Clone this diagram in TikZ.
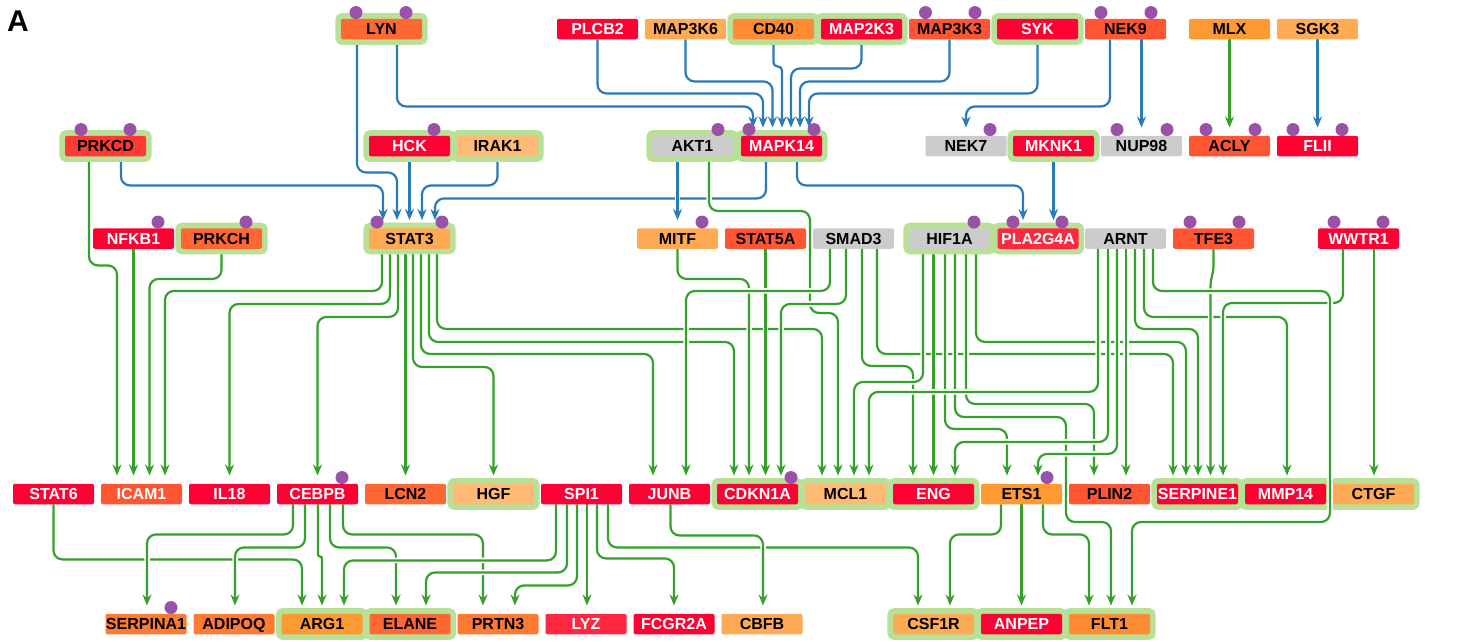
\documentclass[tikz,border=0pt]{standalone}
\usepackage{fontspec}
\setmainfont{Liberation Sans}
\usetikzlibrary{arrows.meta}
\definecolor{cRed}{HTML}{FF0033}
\definecolor{cRedL}{HTML}{FF2840}
\definecolor{cPrk}{HTML}{FF3A33}
\definecolor{cOrRed}{HTML}{FF5533}
\definecolor{cOrA}{HTML}{FF6833}
\definecolor{cOrB}{HTML}{FF7A33}
\definecolor{cOrC}{HTML}{FF8C33}
\definecolor{cOrD}{HTML}{FF9A33}
\definecolor{cLt}{HTML}{FFAA55}
\definecolor{cLtB}{HTML}{FFBA75}
\definecolor{cGray}{HTML}{CCCCCC}
\definecolor{cHalo}{HTML}{B8E096}
\definecolor{cBlue}{HTML}{2A7AB8}
\definecolor{cGreen}{HTML}{35A02C}
\definecolor{cDot}{HTML}{9A52A8}
\pgfdeclarelayer{edges}
\pgfdeclarelayer{halos}
\pgfsetlayers{edges,halos,main}
\begin{document}
\begin{tikzpicture}[x=1pt, y=-1pt,
    gene/.style={rectangle, rounded corners=2pt, minimum width=81pt, minimum height=20.5pt,
      inner sep=0pt, text height=11.4pt, text depth=0pt,
      font=\bfseries\fontsize{16}{18}\selectfont},
    rd/.style={gene, fill=cRed, text=white},
    rl/.style={gene, fill=cRedL, text=white},
    ow/.style={gene, fill=cOrRed, text=white},
    orr/.style={gene, fill=cOrRed},
    oa/.style={gene, fill=cOrA},
    ob/.style={gene, fill=cOrB},
    oc/.style={gene, fill=cOrC},
    od/.style={gene, fill=cOrD},
    lt/.style={gene, fill=cLt},
    ltb/.style={gene, fill=cLtB},
    gy/.style={gene, fill=cGray},
    sig/.style={draw=cBlue, line width=2.2pt, rounded corners=9pt,
      -{Stealth[length=11pt,width=9pt]}, shorten >=8pt,
      preaction={draw=white, line width=5.5pt, arrows=-}},
    tf/.style={sig, draw=cGreen},
    halo/.style={draw=cHalo, fill=cHalo, line width=11pt, rounded corners=2pt},
    pdot/.style={fill=cDot}
  ]
\useasboundingbox (0,0) rectangle (1460,641);
\node[font=\bfseries\fontsize{30}{30}\selectfont] (lblA) at (18,21) {A};

% row 1
\node[oa]  (LYN)    at (381.5,29)  {LYN};
\node[rd]  (PLCB2)  at (597.5,29)  {PLCB2};
\node[lt]  (MAP3K6) at (685.5,29)  {MAP3K6};
\node[oc]  (CD40)   at (773.5,29)  {CD40};
\node[rd]  (MAP2K3) at (861.5,29)  {MAP2K3};
\node[orr] (MAP3K3) at (949.5,29)  {MAP3K3};
\node[rd]  (SYK)    at (1037.5,29) {SYK};
\node[orr] (NEK9)   at (1125.5,29) {NEK9};
\node[od]  (MLX)    at (1229.5,29) {MLX};
\node[lt]  (SGK3)   at (1317.5,29) {SGK3};
% row 2
\node[gene, fill=cPrk] (PRKCD) at (105.5,146) {PRKCD};
\node[rd]  (HCK)    at (409.5,146)  {HCK};
\node[ltb] (IRAK1)  at (497.5,146)  {IRAK1};
\node[gy]  (AKT1)   at (692.5,146)  {AKT1};
\node[rd]  (MAPK14) at (781.5,146)  {MAPK14};
\node[gy]  (NEK7)   at (966,146)    {NEK7};
\node[rd]  (MKNK1)  at (1053.5,146) {MKNK1};
\node[gy]  (NUP98)  at (1141.5,146) {NUP98};
\node[orr] (ACLY)   at (1229.5,146) {ACLY};
\node[rd]  (FLII)   at (1317.5,146) {FLII};
% row 3
\node[rd]  (NFKB1)   at (133.5,238.5)  {NFKB1};
\node[oa]  (PRKCH)   at (221.5,238.5)  {PRKCH};
\node[lt]  (STAT3)   at (409.5,238.5)  {STAT3};
\node[lt]  (MITF)    at (677.5,238.5)  {MITF};
\node[orr] (STAT5A)  at (765.5,238.5)  {STAT5A};
\node[gy]  (SMAD3)   at (853.5,238.5)  {SMAD3};
\node[gy]  (HIF1A)   at (949.5,238.5)  {HIF1A};
\node[rl]  (PLA2G4A) at (1038,238.5)   {PLA2G4A};
\node[gy]  (ARNT)    at (1125.5,238.5) {ARNT};
\node[orr] (TFE3)    at (1213.5,238.5) {TFE3};
\node[rd]  (WWTR1)   at (1358.5,238.5) {WWTR1};
% row 4
\node[rd]  (STAT6)    at (53.5,494)   {STAT6};
\node[ow]  (ICAM1)    at (141.5,494)  {ICAM1};
\node[rd]  (IL18)     at (229.5,494)  {IL18};
\node[rd]  (CEBPB)    at (317.5,494)  {CEBPB};
\node[oa]  (LCN2)     at (405.5,494)  {LCN2};
\node[ltb] (HGF)      at (493.5,494)  {HGF};
\node[rd]  (SPI1)     at (581.5,494)  {SPI1};
\node[rd]  (JUNB)     at (669.5,494)  {JUNB};
\node[rd]  (CDKN1A)   at (757.5,494)  {CDKN1A};
\node[ltb] (MCL1)     at (845.5,494)  {MCL1};
\node[rd]  (ENG)      at (933.5,494)  {ENG};
\node[od]  (ETS1)     at (1021.5,494) {ETS1};
\node[orr] (PLIN2)    at (1109.5,494) {PLIN2};
\node[rd]  (SERPINE1) at (1197.5,494) {SERPINE1};
\node[rd]  (MMP14)    at (1285.5,494) {MMP14};
\node[lt]  (CTGF)     at (1373.5,494) {CTGF};
% row 5
\node[ob]  (SERPINA1) at (146,624)    {SERPINA1};
\node[ob]  (ADIPOQ)   at (234,624)    {ADIPOQ};
\node[od]  (ARG1)     at (322,624)    {ARG1};
\node[oa]  (ELANE)    at (410,624)    {ELANE};
\node[ob]  (PRTN3)    at (498,624)    {PRTN3};
\node[rl]  (LYZ)      at (586,624)    {LYZ};
\node[rd]  (FCGR2A)   at (674,624)    {FCGR2A};
\node[lt]  (CBFB)     at (762,624)    {CBFB};
\node[lt]  (CSF1R)    at (933.5,624)  {CSF1R};
\node[rd]  (ANPEP)    at (1021.5,624) {ANPEP};
\node[oc]  (FLT1)     at (1109.5,624) {FLT1};

\begin{pgfonlayer}{halos}
\foreach \n in {LYN,CD40,MAP2K3,SYK,PRKCD,HCK,IRAK1,AKT1,MAPK14,MKNK1,PRKCH,STAT3,HIF1A,
  PLA2G4A,HGF,CDKN1A,MCL1,ENG,SERPINE1,MMP14,CTGF,ARG1,ELANE,CSF1R,ANPEP,FLT1}
  \draw[halo] (\n.north west) rectangle (\n.south east);
\end{pgfonlayer}

\begin{pgfonlayer}{edges}
% signalling
\draw[sig] ([xshift=-24.5]LYN.south) -- ++(0,133) -| ([xshift=-12.5]STAT3.north);
\draw[sig] ([xshift=15.5]LYN.south) -- ++(0,67) -| ([xshift=-28.5]MAPK14.north);
\draw[sig] (PLCB2.south) -- ++(0,54) -| ([xshift=-18.5]MAPK14.north);
\draw[sig] (MAP3K6.south) -- ++(0,42) -| ([xshift=-9]MAPK14.north);
\draw[sig, rounded corners=4pt] (CD40.south) -- ++(0,27) -| ([xshift=0.5]MAPK14.north);
\draw[sig] (MAP2K3.south) -- ++(0,29) -| ([xshift=9.5]MAPK14.north);
\draw[sig] (MAP3K3.south) -- ++(0,42) -| ([xshift=18.5]MAPK14.north);
\draw[sig] (SYK.south) -- ++(0,54) -| ([xshift=27.5]MAPK14.north);
\draw[sig] ([xshift=-15.5]NEK9.south) -- ++(0,67) -| (NEK7.north);
\draw[sig] ([xshift=16]NEK9.south) -- (NUP98.north);
\draw[sig] (SGK3.south) -- (FLII.north);
\draw[sig] ([xshift=15.5]PRKCD.south) -- ++(0,29) -| ([xshift=-26.5]STAT3.north);
\draw[sig] (HCK.south) -- (STAT3.north);
\draw[sig] (IRAK1.south) -- ++(0,29) -| ([xshift=12.5]STAT3.north);
\draw[sig] ([xshift=-15.5]MAPK14.south) -- ++(0,42) -| ([xshift=25.5]STAT3.north);
\draw[sig] ([xshift=-15]AKT1.south) -- (MITF.north);
\draw[sig] ([xshift=15.5]MAPK14.south) -- ++(0,29) -| ([xshift=-15]PLA2G4A.north);
\draw[sig] (MKNK1.south) -- ([xshift=15.5]PLA2G4A.north);
% regulation
\draw[tf] (MLX.south) -- (ACLY.north);
\draw[tf] ([xshift=-16.5]PRKCD.south) -- ++(0,109) -| ([xshift=-24.5]ICAM1.north);
\draw[tf] (NFKB1.south) -- ([xshift=-8]ICAM1.north);
\draw[tf] (PRKCH.south) -- ++(0,30) -| ([xshift=8]ICAM1.north);
\draw[tf] ([xshift=-27.5]STAT3.south) -- ++(0,42) -| ([xshift=23.5]ICAM1.north);
\draw[tf] ([xshift=-19.5]STAT3.south) -- ++(0,55) -| (IL18.north);
\draw[tf] ([xshift=-11.5]STAT3.south) -- ++(0,68) -| (CEBPB.north);
\draw[tf] ([xshift=-4]STAT3.south) -- (LCN2.north);
\draw[tf] ([xshift=3.5]STAT3.south) -- ++(0,118) -| (HGF.north);
\draw[tf] ([xshift=11.5]STAT3.south) -- ++(0,105) -| ([xshift=-16.5]JUNB.north);
\draw[tf] ([xshift=19.5]STAT3.south) -- ++(0,93) -| ([xshift=-23.5]CDKN1A.north);
\draw[tf] ([xshift=27.5]STAT3.south) -- ++(0,80) -| ([xshift=-23.5]MCL1.north);
\draw[tf] ([xshift=16.5]AKT1.south) |- (810,211) -- (810,313) -| ([xshift=-7.5]MCL1.north);
\draw[tf] (MITF.south) -- ++(0,30) -| ([xshift=-8.5]CDKN1A.north);
\draw[tf] (STAT5A.south) -- ([xshift=8]CDKN1A.north);
\draw[tf] ([xshift=-23.5]SMAD3.south) -- ++(0,42) -| ([xshift=16.5]JUNB.north);
\draw[tf] ([xshift=-7.5]SMAD3.south) -- ++(0,55) -| ([xshift=23.5]CDKN1A.north);
\draw[tf] ([xshift=8.5]SMAD3.south) -- ++(0,117) -| ([xshift=-20.5]ENG.north);
\draw[tf] ([xshift=23.5]SMAD3.south) -- ++(0,105) -| ([xshift=-24.5]SERPINE1.north);
\draw[tf] ([xshift=-26.5]HIF1A.south) -- ++(0,133) -| ([xshift=8.5]MCL1.north);
\draw[tf] ([xshift=-16]HIF1A.south) -- (ENG.north);
\draw[tf] ([xshift=-4.5]HIF1A.south) -- ++(0,180) -| ([xshift=-14.5]ETS1.north);
\draw[tf] ([xshift=5.5]HIF1A.south) |- (1066,417) -- (1066,522) -| ([xshift=1.5]FLT1.north);
\draw[tf] ([xshift=16.5]HIF1A.south) -- ++(0,155) -| ([xshift=-15.5]PLIN2.north);
\draw[tf] ([xshift=26.5]HIF1A.south) -- ++(0,93) -| ([xshift=-11.5]SERPINE1.north);
\draw[tf] ([xshift=-27.5]ARNT.south) -- ++(0,143) -| ([xshift=23.5]MCL1.north);
\draw[tf] ([xshift=-17.5]ARNT.south) -- ++(0,193) -| ([xshift=21.5]ENG.north);
\draw[tf] ([xshift=-8.5]ARNT.south) -- ++(0,205) -| ([xshift=16.5]ETS1.north);
\draw[tf] ([xshift=0.5]ARNT.south) -- ([xshift=16.5]PLIN2.north);
\draw[tf] ([xshift=9.5]ARNT.south) -- ++(0,80) -| ([xshift=0.5]SERPINE1.north);
\draw[tf] ([xshift=18.5]ARNT.south) -- ++(0,68) -| ([xshift=1.5]MMP14.north);
\draw[tf, rounded corners=3pt] (TFE3.south) -- ++(0,20) -- ++(-3,14) -- ([xshift=13]SERPINE1.north);
\draw[tf] ([xshift=-15.5]WWTR1.south) -- ++(0,54) -| ([xshift=25.5]SERPINE1.north);
\draw[tf] ([xshift=15.5]WWTR1.south) -- ([xshift=0.5]CTGF.north);
\draw[tf] (STAT6.south) -- ++(0,55) -| ([xshift=-20]ARG1.north);
\draw[tf] ([xshift=-24.5]CEBPB.south) -- ++(0,30) -| ([xshift=1]SERPINA1.north);
\draw[tf] ([xshift=-12.5]CEBPB.south) -- ++(0,43) -| ([xshift=1]ADIPOQ.north);
\draw[tf, rounded corners=2pt] ([xshift=0.5]CEBPB.south) -- ++(0,52) -| (ARG1.north);
\draw[tf] ([xshift=12.5]CEBPB.south) -- ++(0,43) -| ([xshift=-14]ELANE.north);
\draw[tf] ([xshift=25.5]CEBPB.south) -- ++(0,30) -| ([xshift=-15]PRTN3.north);
\draw[tf] ([xshift=-25.5]SPI1.south) -- ++(0,56) -| ([xshift=22]ARG1.north);
\draw[tf] ([xshift=-14.5]SPI1.south) -- ++(0,68) -| ([xshift=16]ELANE.north);
\draw[tf] ([xshift=-4.5]SPI1.south) -- ++(0,81) -| ([xshift=17]PRTN3.north);
\draw[tf] ([xshift=5.5]SPI1.south) -- ([xshift=1]LYZ.north);
\draw[tf] ([xshift=15.5]SPI1.south) -- ++(0,54) -| (FCGR2A.north);
\draw[tf] ([xshift=26.5]SPI1.south) -- ++(0,43) -| ([xshift=-15.5]CSF1R.north);
\draw[tf] ([xshift=1]JUNB.south) -- ++(0,31) -| ([xshift=1]CBFB.north);
\draw[tf] ([xshift=-20.5]ETS1.south) -- ++(0,30) -| ([xshift=16.5]CSF1R.north);
\draw[tf] (ETS1.south) -- (ANPEP.north);
\draw[tf] ([xshift=21.5]ETS1.south) -- ++(0,30) -| ([xshift=-20.5]FLT1.north);
\end{pgfonlayer}
\draw[tf, preaction={}] ([xshift=27.5]ARNT.south) |- (1330,291) -- (1330,522) -| ([xshift=22.5]FLT1.north);

% phospho marks
\foreach \n/\dx in {LYN/-25.5, LYN/24.5, MAP3K3/-24, MAP3K3/25.5, NEK9/-24.5, NEK9/25.5,
  PRKCD/-24.5, PRKCD/24.5, HCK/24.5, AKT1/25.5, MAPK14/-32.5, MAPK14/32.5, NEK7/24,
  NUP98/-24.5, NUP98/25.5, ACLY/-23.5, ACLY/25.5, FLII/-24.5, FLII/24.5,
  NFKB1/24.5, PRKCH/24.5, STAT3/-32.5, STAT3/32.5, MITF/24.5, HIF1A/24.5,
  PLA2G4A/-25, PLA2G4A/24, TFE3/-23.5, TFE3/25.5, WWTR1/-24.5, WWTR1/24.5,
  CEBPB/24.5, CDKN1A/33.5, ETS1/25.5, SERPINA1/25}
  \fill[pdot] ([xshift=\dx,yshift=6]\n.north) circle (6.5pt);
\end{tikzpicture}
\end{document}
